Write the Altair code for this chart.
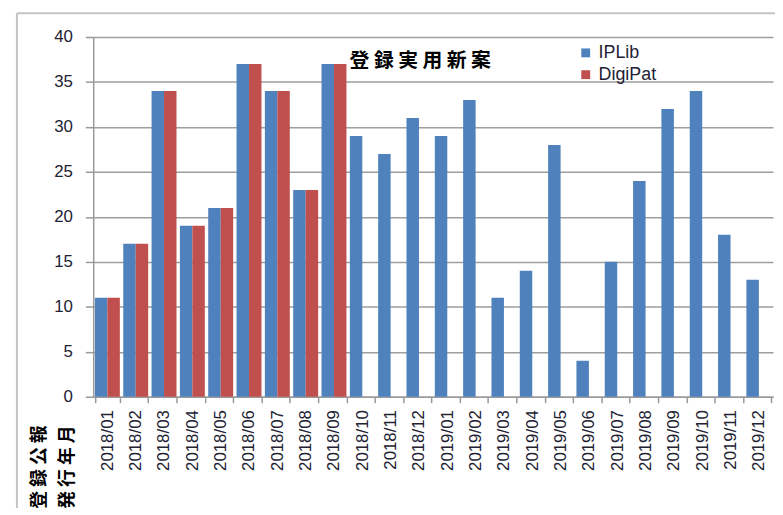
import altair as alt
import pandas as pd

months = ["2018/01", "2018/02", "2018/03", "2018/04", "2018/05", "2018/06",
          "2018/07", "2018/08", "2018/09", "2018/10", "2018/11", "2018/12",
          "2019/01", "2019/02", "2019/03", "2019/04", "2019/05", "2019/06",
          "2019/07", "2019/08", "2019/09", "2019/10", "2019/11", "2019/12"]
iplib = [11, 17, 34, 19, 21, 37, 34, 23, 37, 29, 27, 31,
         29, 33, 11, 14, 28, 4, 15, 24, 32, 34, 18, 13]
digipat = [11, 17, 34, 19, 21, 37, 34, 23, 37]
series = ["IPLib", "DigiPat"]
colors = ["#4F81BD", "#C0504D"]
title_text = "登 録 実 用 新 案"
xlabel_line1 = "登 録 公 報"
xlabel_line2 = "発 行 年 月"

rows = []
for m, v in zip(months, iplib):
    rows.append({"month": m, "series": "IPLib", "value": v})
for m, v in zip(months, digipat):
    rows.append({"month": m, "series": "DigiPat", "value": v})
df = pd.DataFrame(rows)

W, H = 686, 363
LABEL_COLOR = "#222233"

bars = alt.Chart(df).mark_bar().encode(
    x=alt.X("month:N", sort=months,
            scale=alt.Scale(paddingInner=0.12, paddingOuter=0.06),
            axis=alt.Axis(title=None, labelAngle=-90, labelFontSize=17,
                          labelFont="Liberation Sans", labelColor=LABEL_COLOR,
                          tickBand="extent", tickSize=6, tickColor="#999999",
                          tickWidth=1.5, domainColor="#999999", domainWidth=1.5,
                          labelPadding=7, grid=False)),
    xOffset=alt.XOffset("series:N", sort=series,
                        scale=alt.Scale(domain=series, paddingInner=0, paddingOuter=0)),
    y=alt.Y("value:Q", scale=alt.Scale(domain=[0, 40], nice=False),
            axis=alt.Axis(title=None, values=list(range(0, 41, 5)), labelFontSize=17,
                          labelFont="Liberation Sans", labelColor=LABEL_COLOR,
                          tickSize=8, tickColor="#999999", tickWidth=1.5,
                          domainColor="#999999", domainWidth=1.5, labelPadding=13,
                          grid=True, gridColor="#9e9e9e", gridWidth=1.5)),
    color=alt.Color("series:N", sort=series,
                    scale=alt.Scale(domain=series, range=colors),
                    legend=alt.Legend(title=None, orient="none", legendX=488, legendY=7,
                                      symbolType="square", symbolSize=80,
                                      labelFontSize=18, labelFont="Liberation Sans",
                                      labelColor=LABEL_COLOR, rowPadding=4,
                                      symbolStrokeWidth=0, padding=0)),
)

title = alt.Chart(pd.DataFrame({"t": [title_text]})).mark_text(
    font="Noto Sans CJK JP", fontWeight="bold", fontSize=20, color="black",
    align="center", baseline="middle"
).encode(text="t:N", x=alt.value(330), y=alt.value(24))

xlab1 = alt.Chart(pd.DataFrame({"t": [xlabel_line1]})).mark_text(
    font="Noto Sans CJK JP", fontWeight="bold", fontSize=18, color="black",
    align="center", baseline="middle", angle=270
).encode(text="t:N", x=alt.value(-54), y=alt.value(434))

xlab2 = alt.Chart(pd.DataFrame({"t": [xlabel_line2]})).mark_text(
    font="Noto Sans CJK JP", fontWeight="bold", fontSize=18, color="black",
    align="center", baseline="middle", angle=270
).encode(text="t:N", x=alt.value(-25), y=alt.value(434))

border_left = alt.Chart(pd.DataFrame({"t": [0]})).mark_rule(
    color="#c4c4c4", strokeWidth=2
).encode(x=alt.value(-77), y=alt.value(-24), y2=alt.value(480))

border_top = alt.Chart(pd.DataFrame({"t": [0]})).mark_rule(
    color="#c4c4c4", strokeWidth=2
).encode(y=alt.value(-24), x=alt.value(-77), x2=alt.value(700))

chart = alt.layer(border_left, border_top, bars, title, xlab1, xlab2).properties(
    width=W, height=H,
    autosize=alt.AutoSizeParams(type="none"),
    padding={"left": 86, "top": 27, "right": 2, "bottom": 110},
    background="white",
).configure_view(strokeWidth=0)

chart.save("out.html", embed_options={"renderer": "svg", "actions": False})
